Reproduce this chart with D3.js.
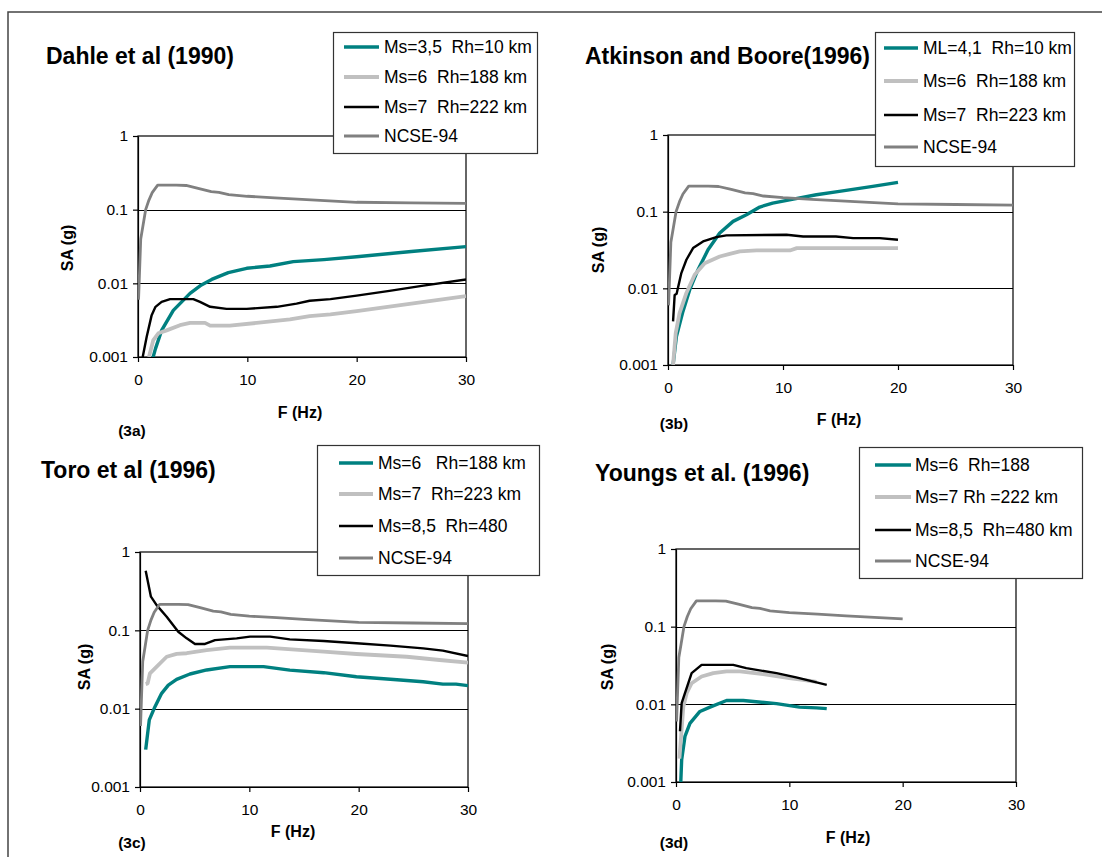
<!DOCTYPE html>
<html>
<head>
<meta charset="utf-8">
<script src="https://cdn.jsdelivr.net/npm/d3@7"></script>
<style>
  html, body { margin: 0; padding: 0; background: #fff; }
  svg { display: block; font-family: "Liberation Sans", Arial, sans-serif; }
  text { white-space: pre; }
</style>
</head>
<body>
<svg id="chart" width="1102" height="857"></svg>
<script>
// SA (g) vs F (Hz), four attenuation models compared with NCSE-94
// each series: [frequency Hz, spectral acceleration g]

const X_TICKS = [0, 10, 20, 30];
const Y_TICKS = [0.001, 0.01, 0.1, 1];

// NCSE-94 design spectrum (same in every panel)
const ncse94 = [[0.05, 0.006], [0.25, 0.04], [0.45, 0.06], [0.7, 0.1], [1.0, 0.135], [1.3, 0.17],
  [1.8, 0.215], [2.5, 0.215], [3.5, 0.215], [4.4, 0.213], [5.5, 0.195], [6.7, 0.176], [7.4, 0.172],
  [8.3, 0.16], [10, 0.152], [12.5, 0.145], [15, 0.138], [17.5, 0.132], [20, 0.126], [25, 0.124], [30, 0.122]];

// (3a) Dahle et al (1990)
const dahleMs35 = [[1.3, 0.0009], [1.6, 0.0013], [2.16, 0.0023], [3.23, 0.0043], [4.76, 0.0073], [5.8, 0.0095],
  [6.74, 0.0113], [8.26, 0.014], [9.94, 0.016], [12.07, 0.0172], [14.2, 0.0197], [17, 0.021], [20, 0.023],
  [25, 0.027], [30, 0.0315]];
const dahleMs6 = [[1.0, 0.001], [1.4, 0.0017], [1.86, 0.0021], [2.62, 0.0023], [3.84, 0.0027], [4.76, 0.0029],
  [6.13, 0.0029], [6.6, 0.00266], [8.4, 0.00266], [10.85, 0.0029], [13.9, 0.00325], [15.7, 0.0036],
  [17.6, 0.0038], [20, 0.0042], [25, 0.0053], [30, 0.0067]];
const dahleMs7 = [[0.43, 0.001], [0.8, 0.0019], [1.25, 0.0037], [1.6, 0.0048], [2.16, 0.0056], [2.93, 0.0061],
  [5.06, 0.0061], [5.67, 0.0056], [6.6, 0.0048], [8.1, 0.0045], [9.94, 0.0045], [12.7, 0.0048], [14.5, 0.0053],
  [15.7, 0.0058], [17.6, 0.0061], [20, 0.0068], [23, 0.0079], [26.1, 0.0093], [30, 0.0113]];
const dahleLabels = ["Ms=3,5  Rh=10 km", "Ms=6  Rh=188 km", "Ms=7  Rh=222 km", "NCSE-94"];

// (3b) Atkinson and Boore (1996)
const abMl41 = [[0.44, 0.001], [0.73, 0.00235], [1.3, 0.005], [1.89, 0.0096], [2.61, 0.0175], [3.48, 0.0318],
  [4.5, 0.0526], [5.66, 0.0747], [6.82, 0.091], [7.98, 0.115], [9.1, 0.129], [10.9, 0.146], [12.9, 0.166],
  [14.9, 0.184], [17.8, 0.214], [20, 0.241]];
const abMs6 = [[0.44, 0.001], [0.67, 0.0026], [1.0, 0.0047], [1.6, 0.0087], [2.32, 0.015], [3.19, 0.0213],
  [4.5, 0.026], [5.37, 0.0282], [6.24, 0.0303], [7.7, 0.0312], [10.6, 0.0312], [11.2, 0.0335], [20, 0.0335]];
const abMs7 = [[0.44, 0.0037], [0.58, 0.0082], [0.75, 0.0085], [1.16, 0.0158], [1.6, 0.0236], [2.18, 0.0335],
  [3.05, 0.0409], [4.2, 0.0466], [5.08, 0.049], [10.3, 0.05], [11.75, 0.0475], [14.6, 0.0475], [16.1, 0.0452],
  [18.4, 0.0452], [20, 0.043]];
const abLabels = ["ML=4,1  Rh=10 km", "Ms=6  Rh=188 km", "Ms=7  Rh=223 km", "NCSE-94"];

// (3c) Toro et al (1996)
const toroMs6 = [[0.52, 0.003], [0.85, 0.0072], [1.37, 0.0106], [1.98, 0.0157], [2.59, 0.02], [3.35, 0.0237],
  [4.57, 0.0277], [6.1, 0.0312], [8.23, 0.0344], [11.3, 0.0344], [13.7, 0.031], [16.8, 0.0288], [19.8, 0.0256],
  [22.9, 0.0237], [25.9, 0.0221], [27.7, 0.0206], [28.9, 0.0206], [30, 0.0197]];
const toroMs7 = [[0.52, 0.0206], [0.7, 0.021], [0.91, 0.0283], [1.37, 0.0327], [2.44, 0.046], [3.35, 0.05],
  [4.27, 0.051], [6.1, 0.056], [8.23, 0.06], [11.6, 0.06], [16.8, 0.0534], [19.8, 0.0499], [24.4, 0.046],
  [27.4, 0.0418], [30, 0.0387]];
const toroMs85 = [[0.52, 0.578], [1.0, 0.269], [1.52, 0.21], [2.44, 0.149], [3.5, 0.096], [4.27, 0.079],
  [5.03, 0.067], [5.95, 0.067], [6.86, 0.075], [8.84, 0.079], [10.06, 0.083], [11.9, 0.083], [13.7, 0.0767],
  [16.8, 0.073], [19.8, 0.0683], [22.9, 0.0637], [25.9, 0.0589], [27.7, 0.055], [30, 0.047]];
const toroLabels = ["Ms=6   Rh=188 km", "Ms=7  Rh=223 km", "Ms=8,5  Rh=480", "NCSE-94"];

// (3d) Youngs et al. (1996)
const youngsMs6 = [[0.41, 0.0009], [0.5, 0.00194], [0.79, 0.00386], [1.23, 0.0057], [2.11, 0.0081], [3.0, 0.0092],
  [4.46, 0.0112], [5.93, 0.0112], [8.87, 0.0102], [10.9, 0.0092], [12.4, 0.009], [13.3, 0.0088]];
const youngsMs7 = [[0.3, 0.002], [0.65, 0.0094], [0.94, 0.0139], [1.38, 0.0187], [2.26, 0.0228], [3.29, 0.0252],
  [4.46, 0.0265], [5.64, 0.0265], [7.7, 0.0245], [10, 0.0217], [11.2, 0.0207], [12.4, 0.0195]];
const youngsMs85 = [[0.35, 0.0045], [0.5, 0.0104], [0.79, 0.0139], [1.38, 0.0252], [2.26, 0.0322], [5.05, 0.0322],
  [6.2, 0.0292], [8.87, 0.0252], [10.6, 0.0222], [13.3, 0.0178]];
const youngsLabels = ["Ms=6  Rh=188", "Ms=7 Rh =222 km", "Ms=8,5  Rh=480 km", "NCSE-94"];

// line style per series slot (teal, light grey, black, grey)
const SERIES_STYLE = [
  { color: "#008080", width: 3.4 },
  { color: "#c0c0c0", width: 3.8 },
  { color: "#000000", width: 2.4 },
  { color: "#808080", width: 2.8 }
];

// panel layout (pixel positions)
const panels = [
  {
    id: "a", title: "Dahle et al (1990)", tag: "(3a)",
    series: [dahleMs35, dahleMs6, dahleMs7, ncse94], labels: dahleLabels,
    plot: { x0: 138, x1: 466, y0: 136, y1: 357 },
    titlePos: [46, 64], sa: [67, 248], fhz: [300, 418], tagPos: [132, 436],
    legend: { x: 333, y: 32, w: 204, h: 121, rows: [47, 77, 107, 136], sx: 344, sw: 35, tx: 384 }
  },
  {
    id: "b", title: "Atkinson and Boore(1996)", tag: "(3b)",
    series: [abMl41, abMs6, abMs7, ncse94], labels: abLabels,
    plot: { x0: 668, x1: 1013, y0: 135, y1: 365 },
    titlePos: [585, 64], sa: [598, 250], fhz: [839, 425], tagPos: [674, 429],
    legend: { x: 875, y: 32, w: 199, h: 134, rows: [48, 81, 115, 147], sx: 884, sw: 34, tx: 923 }
  },
  {
    id: "c", title: "Toro et al (1996)", tag: "(3c)",
    series: [toroMs6, toroMs7, toroMs85, ncse94], labels: toroLabels,
    plot: { x0: 140, x1: 468, y0: 552, y1: 787 },
    titlePos: [41, 478], sa: [84, 667], fhz: [293, 837], tagPos: [132, 848],
    legend: { x: 317, y: 445, w: 222, h: 130, rows: [463, 494, 526, 558], sx: 339, sw: 34, tx: 378 }
  },
  {
    id: "d", title: "Youngs et al. (1996)", tag: "(3d)",
    series: [youngsMs6, youngsMs7, youngsMs85, ncse94.filter(d => d[0] <= 20)], labels: youngsLabels,
    plot: { x0: 676, x1: 1016, y0: 549, y1: 782 },
    titlePos: [595, 481], sa: [607, 667], fhz: [848, 843], tagPos: [674, 848],
    legend: { x: 859, y: 447, w: 223, h: 131, rows: [465, 497, 530, 561], sx: 875, sw: 36, tx: 915 }
  }
];

const svg = d3.select("#chart");

// outer figure border (top and left edges visible)
svg.append("path")
  .attr("d", "M8,857 L8,12 L1102,12")
  .attr("fill", "none")
  .attr("stroke", "#444")
  .attr("stroke-width", 1.5);

panels.forEach(drawPanel);

function drawPanel(p) {
  const { x0, x1, y0, y1 } = p.plot;
  const x = d3.scaleLinear().domain([0, 30]).range([x0, x1]);
  const y = d3.scaleLog().domain([0.001, 1]).range([y1, y0]);

  const g = svg.append("g").attr("class", "panel panel-" + p.id);

  // title
  g.append("text")
    .attr("x", p.titlePos[0])
    .attr("y", p.titlePos[1])
    .attr("font-size", 23)
    .attr("font-weight", "bold")
    .attr("fill", "#000")
    .text(p.title);

  // plot frame
  g.append("rect")
    .attr("x", x0).attr("y", y0)
    .attr("width", x1 - x0).attr("height", y1 - y0)
    .attr("fill", "#fff")
    .attr("stroke", "#000")
    .attr("stroke-width", 1.2);

  // horizontal gridlines
  g.append("g")
    .selectAll("line")
    .data(Y_TICKS.slice(1, 3))
    .join("line")
    .attr("x1", x0).attr("x2", x1)
    .attr("y1", d => Math.round(y(d)) + 0.5)
    .attr("y2", d => Math.round(y(d)) + 0.5)
    .attr("stroke", "#000")
    .attr("stroke-width", 1);

  // axes
  const yAxis = g.append("g")
    .attr("transform", `translate(${x0},0)`)
    .call(d3.axisLeft(y).tickValues(Y_TICKS).tickFormat(d3.format("")).tickSize(5).tickSizeOuter(0).tickPadding(5));
  const xAxis = g.append("g")
    .attr("transform", `translate(0,${y1})`)
    .call(d3.axisBottom(x).tickValues(X_TICKS).tickSize(5).tickSizeOuter(0).tickPadding(12));

  [yAxis, xAxis].forEach(ax => {
    ax.select(".domain").attr("stroke", "#000").attr("stroke-width", 1.2);
    ax.selectAll(".tick line").attr("stroke", "#000").attr("stroke-width", 1.2);
    ax.selectAll(".tick text")
      .attr("font-family", "'Liberation Sans', Arial, sans-serif")
      .attr("font-size", 15.5)
      .attr("fill", "#000");
  });

  // clip curves to the plot area
  const clipId = "clip-" + p.id;
  svg.append("clipPath").attr("id", clipId)
    .append("rect")
    .attr("x", x0).attr("y", y0)
    .attr("width", x1 - x0).attr("height", y1 - y0);

  const line = d3.line()
    .x(d => x(d[0]))
    .y(d => y(d[1]));

  g.append("g")
    .attr("clip-path", `url(#${clipId})`)
    .selectAll("path")
    .data(p.series)
    .join("path")
    .attr("d", line)
    .attr("fill", "none")
    .attr("stroke", (d, i) => SERIES_STYLE[i].color)
    .attr("stroke-width", (d, i) => SERIES_STYLE[i].width)
    .attr("stroke-linejoin", "round");

  // axis titles
  g.append("text")
    .attr("transform", `translate(${p.sa[0]},${p.sa[1]}) rotate(-90)`)
    .attr("text-anchor", "middle")
    .attr("dominant-baseline", "central")
    .attr("font-size", 16)
    .attr("font-weight", "bold")
    .text("SA (g)");

  g.append("text")
    .attr("x", p.fhz[0])
    .attr("y", p.fhz[1])
    .attr("text-anchor", "middle")
    .attr("font-size", 16)
    .attr("font-weight", "bold")
    .text("F (Hz)");

  g.append("text")
    .attr("x", p.tagPos[0])
    .attr("y", p.tagPos[1])
    .attr("text-anchor", "middle")
    .attr("font-size", 15.5)
    .attr("font-weight", "bold")
    .text(p.tag);

  // legend
  const L = p.legend;
  const lg = g.append("g").attr("class", "legend");
  lg.append("rect")
    .attr("x", L.x + 0.5).attr("y", L.y + 0.5)
    .attr("width", L.w).attr("height", L.h)
    .attr("fill", "#fff")
    .attr("stroke", "#333")
    .attr("stroke-width", 1.2);

  const items = lg.selectAll("g.item")
    .data(p.labels)
    .join("g")
    .attr("class", "item");

  items.append("line")
    .attr("x1", L.sx).attr("x2", L.sx + L.sw)
    .attr("y1", (d, i) => L.rows[i]).attr("y2", (d, i) => L.rows[i])
    .attr("stroke", (d, i) => SERIES_STYLE[i].color)
    .attr("stroke-width", (d, i) => SERIES_STYLE[i].width);

  items.append("text")
    .attr("x", L.tx)
    .attr("y", (d, i) => L.rows[i])
    .attr("dominant-baseline", "central")
    .attr("font-size", 17.5)
    .attr("fill", "#000")
    .text(d => d);
}
</script>
</body>
</html>
